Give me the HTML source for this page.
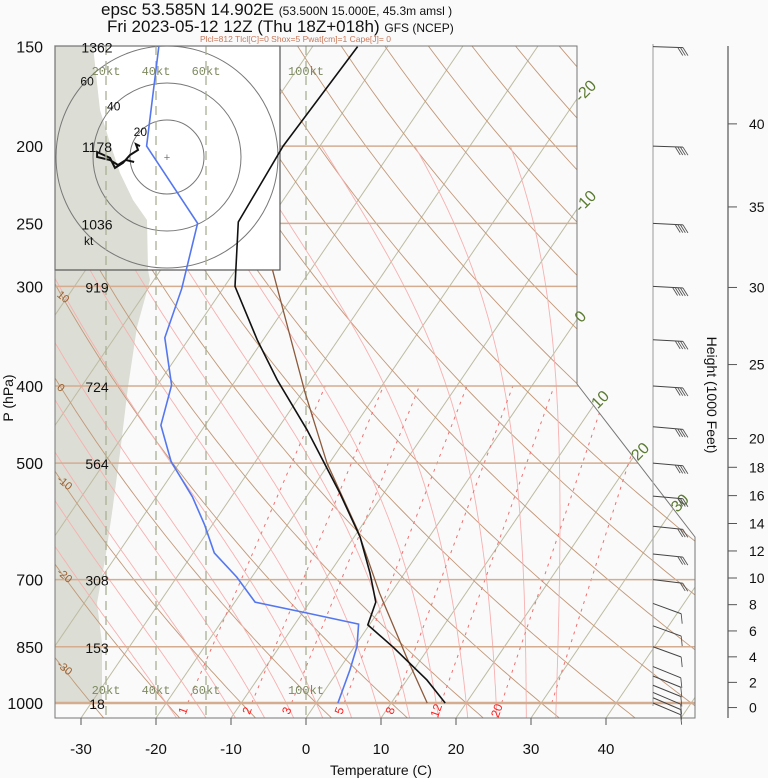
<!DOCTYPE html>
<html><head><meta charset="utf-8"><style>
html,body{margin:0;padding:0;background:#fafafa;}
svg{display:block;font-family:"Liberation Sans",sans-serif;}
</style></head><body>
<svg id="chart" width="768" height="778" viewBox="0 0 768 778" xmlns="http://www.w3.org/2000/svg">
<defs>
<clipPath id="plotClip"><polygon points="55,46 577,46 577,384 695,537 695,718 55,718"/></clipPath>
<clipPath id="hodoClip"><rect x="55" y="46" width="225" height="224"/></clipPath>
</defs>
<rect x="0" y="0" width="768" height="778" fill="#fafafa"/>
<g id="title">
<text x="101" y="15" font-size="17" fill="#111">epsc 53.585N 14.902E <tspan font-size="12">(53.500N 15.000E,  45.3m amsl )</tspan></text>
<text x="107" y="32" font-size="17" fill="#111">Fri 2023-05-12 12Z (Thu 18Z+018h) <tspan font-size="12">  GFS (NCEP)</tspan></text>
<text x="200" y="42" font-size="8.5" fill="#c8785a">Plcl=812 Tlcl[C]=0 Shox=5 Pwat[cm]=1 Cape[J]= 0</text>
</g>
<g id="plot" clip-path="url(#plotClip)"></g>
<g id="hodo"></g>
<g id="over"></g>
<g id="axes"></g>
</svg>
<script>
// ---- data ----
const tempP = [150,200,249,300,350,393,454,545,619,687,747,798,851,936,1000];
const tempT = [-54.0,-54.9,-54.0,-48.6,-40.8,-34.5,-26.0,-15.9,-9.2,-4.6,-1.2,-0.2,5.2,12.7,17.2];
const dewP = [150,200,250,302,348,399,448,498,551,598,648,695,747,771,796,849,909,1000];
const dewT = [-80.5,-73.1,-59.3,-55.5,-53.3,-48.1,-45.9,-41.2,-35.2,-31.0,-27.2,-22.0,-17.3,-9.4,-1.5,0.3,1.5,2.9];
const parcelP = [286,408,500,606,728,876,1000];
const parcelT = [-45.1,-29.6,-20.3,-10.2,-1.5,7.9,14.8];
const stdLevels = [1000,850,700,500,400,300,250,200];
const stdPLabels = [1000,850,700,500,400,300,250,200,150];
const stdHeights = [18,153,308,564,724,919,1036,1178,1362];
const tempTicks = [-30,-20,-10,0,10,20,30,40];
const heightTicks = [0,2,4,6,8,10,12,14,16,18,20,25,30,35,40];
const isoLabels = [-20,-10,0,10,20,30];
const dryLabels = [10,0,-10,-20,-30];
const mixRatios = [1,2,3,5,8,12,20,30];
const mixLabels = [1,2,3,5,8,12,20];
const moistStarts = [-20,-16,-12,-8,-4,0,4,8,12,16,20,24,28,32];
const windKts = [20,40,60,100];
const hodoRings = [20,40,60];
const barbP = [150,200,250,300,350,400,450,500,550,600,650,700,750,800,850,900,925,950,970,985,1000];
const barbDir = [92,92,93,93,93,94,95,95,95,96,96,97,110,110,110,112,112,112,113,113,113];
const barbSpd = [30,35,40,50,40,40,40,35,30,30,30,20,10,10,10,10,10,10,10,10,10];
const hodoU = [-14.6,-16.8,-15.7,-20,-23.8,-28.1,-30.8,-37.8,-37.8,-30.8,-26.5,-22.2,-17.8];
const hodoV = [5.9,7.0,3.8,1.1,-3.2,-5.9,-0.5,2.7,0,-1.6,-4.3,-1.6,-2.7];

// ---- axis functions ----
const NS="http://www.w3.org/2000/svg";
function yP(p){return 703+346*Math.log(p/1000);}
function xT(T,y){return 306+7.5*T+0.68*(718-y);}
function mk(tag,attrs,parent){const e=document.createElementNS(NS,tag);for(const k in attrs)e.setAttribute(k,attrs[k]);parent.appendChild(e);return e;}
const plot=document.getElementById('plot'),hodo=document.getElementById('hodo'),over=document.getElementById('over'),axes=document.getElementById('axes');
function pts(arrP,arrT){return arrP.map((p,i)=>{const y=yP(p);return xT(arrT[i],y).toFixed(1)+','+y.toFixed(1);}).join(' ');}

// gray shading
let g=mk('polygon',{points:"55,46 93,46 97,83 100,110 110,143 120,173 133,200 147,220 148,270 150,280 137,327 128,387 120,453 112,513 105,560 97,603 102,643 102,702 55,702",fill:"#dcddd4"},plot);



// isotherms
for(let T=-170;T<=50;T+=10){
 const l=mk('line',{x1:xT(T,718),y1:718,x2:xT(T,46),y2:46,stroke:"#bdbca2","stroke-width":1},plot);
 
 
}
// dry adiabats
for(let th=-40;th<=240;th+=10){
 const a=[];for(let p=1060;p>=140;p-=10){const T=(th+273.15)*Math.pow(p/1000,0.2857)-273.15;const y=yP(p);a.push(xT(T,y).toFixed(1)+','+y.toFixed(1));}
 const l=mk('polyline',{points:a.join(' '),fill:"none",stroke:"#c29878","stroke-width":0.9},plot);
 
 
}
// moist adiabats
function es(T){return 6.112*Math.exp(17.67*T/(T+243.5));}
function grad(T,p){const Tk=T+273.15,e=es(T),rs=0.622*e/(p-e);return (287*Tk+2.5e6*rs)/(p*(1005+2.5e6*2.5e6*rs*0.622/(287*Tk*Tk)));}
function moistPath(T0){
 const a=[];let T=T0;
 let Td=T0;const down=[];
 for(let p=1000;p<1060;p+=5){const y=yP(p);down.unshift(xT(Td,y).toFixed(1)+','+y.toFixed(1));Td+=5*grad(Td,p);}
 for(let p=1000;p>=200;p-=5){const y=yP(p);a.push(xT(T,y).toFixed(1)+','+y.toFixed(1));T-=5*grad(T,p);}
 return down.concat(a).join(' ');
}
moistStarts.forEach(T0=>{
 const l=mk('polyline',{points:moistPath(T0),fill:"none",stroke:"#f7b0b0","stroke-width":0.9},plot);
 
 
});
// mixing ratio
function tdw(w,p){const e=w*p/(622+w);const L=Math.log(e/6.112);return 243.5*L/(17.67-L);}
mixRatios.forEach(w=>{
 const y1=yP(1000),y2=yP(400);
 const l=mk('line',{x1:xT(tdw(w,1000),y1),y1:y1,x2:xT(tdw(w,400),y2),y2:y2,stroke:"#f07070","stroke-width":1,"stroke-dasharray":"3,5"},plot);
 
 
});
mixLabels.forEach(w=>{
 const y=712,x=xT(tdw(w,1000),yP(1000))-1;
 const t=mk('text',{x:x,y:y,"font-size":12,fill:"#ff2020","text-anchor":"middle",transform:`rotate(-70 ${x} ${y})`},plot);
 t.textContent=w;
 
 
});
// standard level lines
stdLevels.forEach(p=>{
 const y=yP(p);
 const l=mk('line',{x1:55,y1:y,x2:700,y2:y,stroke:"#d4ac90","stroke-width":p==1000?2.5:1.5},plot);
 
 
});
// dry adiabat labels
dryLabels.forEach(th=>{
 let best=0,bd=1e9;for(let p=140;p<=1060;p+=1){const T=(th+273.15)*Math.pow(p/1000,0.2857)-273.15;const y=yP(p);const d=Math.abs(xT(T,y)-62);if(d<bd){bd=d;best=y;}}
 const t=mk('text',{x:57,y:best+3,"font-size":11,fill:"#9a6030",transform:`rotate(40 62 ${best})`},plot);
 t.textContent=th;
 
 
});

// hodograph box
let hb=mk('rect',{x:55,y:46,width:225,height:224,fill:"#ffffff"},hodo);


const hg=mk('g',{"clip-path":"url(#hodoClip)"},hodo);
mk('polygon',{points:"55,46 93,46 97,83 100,110 110,143 120,173 133,200 147,220 148,270 55,270",fill:"#dcddd4"},hg);
const cx=167,cy=157,kr=37/20;
hodoRings.forEach(s=>{
 const c=mk('circle',{cx:cx,cy:cy,r:s*kr,fill:"none",stroke:"#777","stroke-width":1},hg);
 
 
 const t=mk('text',{x:cx-s*kr*0.72,y:cy-s*kr*0.68+4,"font-size":12,fill:"#111","text-anchor":"middle"},hodo);
 t.textContent=s;
 
 
});
mk('text',{x:cx,y:cy+4,"font-size":11,fill:"#777","text-anchor":"middle"},hodo).textContent="+";
let kt=mk('text',{x:84,y:245,"font-size":12,fill:"#111"},hodo);kt.textContent="kt";
let ht=mk('polyline',{points:hodoU.map((u,i)=>(cx+u*kr).toFixed(1)+','+(cy-hodoV[i]*kr).toFixed(1)).join(' '),fill:"none",stroke:"#111","stroke-width":2},hodo);


mk('rect',{x:55,y:46,width:225,height:224,fill:"none",stroke:"#555","stroke-width":1.2},hodo);

// wind speed dashed verticals
windKts.forEach(k=>{
 const x=56+2.5*k;
 const l=mk('line',{x1:x,y1:46,x2:x,y2:718,stroke:"#a9b194","stroke-width":1.3,"stroke-dasharray":"9,6"},over);
 
 
 [75,694].forEach(y=>{const t=mk('text',{x:x,y:y,"font-size":12,fill:"#7d8a60","text-anchor":"middle","font-family":"Liberation Mono, monospace"},over);t.textContent=k+'kt';});
});
// profiles
let pl=mk('polyline',{points:pts(parcelP,parcelT),fill:"none",stroke:"#8b5a3c","stroke-width":1.3},over);


let dl=mk('polyline',{points:pts(dewP,dewT),fill:"none",stroke:"#5577ee","stroke-width":1.6},over);


let tl=mk('polyline',{points:pts(tempP,tempT),fill:"none",stroke:"#111","stroke-width":1.6},over);



// plot boundary
let bd=mk('polyline',{points:"55,46 577,46 577,384 695,537 695,718 55,718 55,46",fill:"none",stroke:"#777","stroke-width":1},axes);


// isotherm labels
isoLabels.forEach(T=>{
 let y,x;
 if(T<=0){x=577;y=718-(x-306-7.5*T)/0.68;}
 else{
  for(let yy=384;yy<=537;yy+=0.5){const xe=577+(yy-384)*(118/153);if(xT(T,yy)<=xe){y=yy;x=xe;break;}}
 }
 const t=mk('text',{x:x+4,y:y+4,"font-size":16,fill:"#5a7a30",transform:`rotate(-45 ${x+4} ${y+4})`},axes);
 t.textContent=T;
 
 
});
// pressure labels and heights
stdPLabels.forEach((p,i)=>{
 const y=yP(p);
 const t=mk('text',{x:43,y:y+6,"font-size":16,fill:"#111","text-anchor":"end"},axes);
 t.textContent=p;
 
 
 const h=mk('text',{x:97,y:y+6,"font-size":14,fill:"#111","text-anchor":"middle"},axes);
 h.textContent=stdHeights[i];
 
 
});
let pt=mk('text',{x:13,y:398,"font-size":14,fill:"#111","text-anchor":"middle",transform:"rotate(-90 13 398)"},axes);pt.textContent="P (hPa)";


// temperature ticks
tempTicks.forEach(T=>{
 const x=306+7.5*T;
 mk('line',{x1:x,y1:718,x2:x,y2:725,stroke:"#555"},axes);
 const t=mk('text',{x:x,y:754,"font-size":15,fill:"#111","text-anchor":"middle"},axes);
 t.textContent=T;
 
 
});
let xt=mk('text',{x:381,y:775,"font-size":14,fill:"#111","text-anchor":"middle"},axes);xt.textContent="Temperature (C)";


// height axis
function hY(k){const m=k*304.8;let p;if(m<=11000)p=1013.25*Math.pow(1-2.25577e-5*m,5.25588);else p=226.32*Math.exp(-(m-11000)/6341.6);return yP(p);}
mk('line',{x1:728,y1:46,x2:728,y2:718,stroke:"#555","stroke-width":1.2},axes);
heightTicks.forEach(k=>{
 const y=hY(k);
 mk('line',{x1:728,y1:y,x2:737,y2:y,stroke:"#555"},axes);
 const t=mk('text',{x:749,y:y+5,"font-size":14,fill:"#111"},axes);
 t.textContent=k;
 
 
});
let hTitle=mk('text',{x:707,y:395,"font-size":14,fill:"#111","text-anchor":"middle",transform:"rotate(90 707 395)"},axes);hTitle.textContent="Height (1000 Feet)";


// wind barbs
mk('line',{x1:653,y1:44,x2:653,y2:706,stroke:"#aaa","stroke-width":1.2},axes);
barbP.forEach((p,i)=>{
 const y=yP(p);const a=(barbDir[i]-90)*Math.PI/180;const L=30;
 const ex=653+L*Math.cos(a),ey=y+L*Math.sin(a);
 const b=mk('g',{},axes);
 
 
 mk('line',{x1:653,y1:y,x2:ex,y2:ey,stroke:"#444","stroke-width":1},b);
 const n=Math.round(barbSpd[i]/10);
 for(let k=0;k<n;k++){
  const sx=ex-k*2.6*Math.cos(a),sy=ey-k*2.6*Math.sin(a);
  const fx=sx+(a>0.2?1:5),fy=sy+(a>0.2?10:8);
  mk('line',{x1:sx,y1:sy,x2:fx,y2:fy,stroke:"#555","stroke-width":0.9},b);
 }
});
</script>
</body></html>
